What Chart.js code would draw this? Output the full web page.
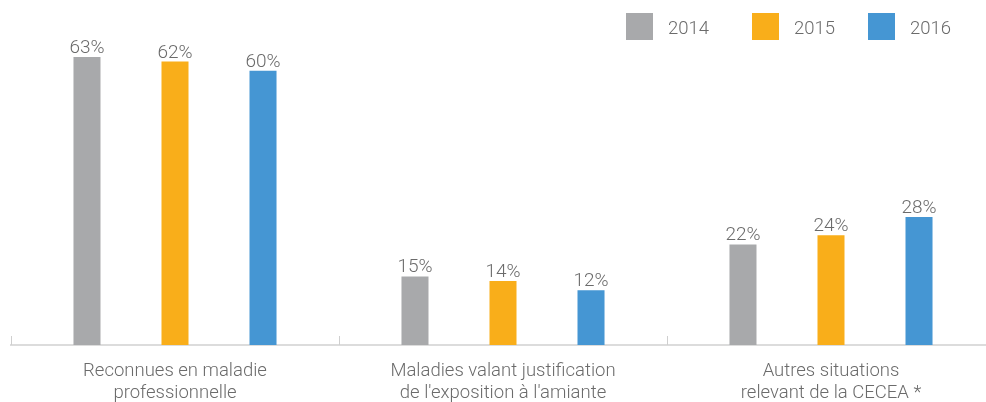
<!DOCTYPE html>
<html>
<head>
<meta charset="utf-8">
<script src="https://cdn.jsdelivr.net/npm/chart.js@4"></script>
<style>
  html, body { margin: 0; padding: 0; background: #fff; overflow: hidden; }
  #wrap { width: 1010px; height: 402px; position: relative; }
</style>
</head>
<body>
<div id="wrap"><canvas id="chart"></canvas></div>
<script>
const categories = [
  ['Reconnues en maladie', 'professionnelle'],
  ['Maladies valant justification', "de l'exposition à l'amiante"],
  ['Autres situations', 'relevant de la CECEA *']
];
const years = ['2014', '2015', '2016'];
const values2014 = [63, 15, 22];
const values2015 = [62, 14, 24];
const values2016 = [60, 12, 28];
const colors = ['#a8a9ab', '#f9ae1a', '#4596d3'];

const textColor = '#6b6b6b';
const fontFamily = 'Roboto, "Noto Sans", sans-serif';

// value labels above each bar
const valueLabels = {
  id: 'valueLabels',
  afterDatasetsDraw(chart) {
    const {ctx} = chart;
    ctx.save();
    ctx.font = '300 19px ' + fontFamily;
    ctx.fillStyle = textColor;
    ctx.textAlign = 'center';
    ctx.textBaseline = 'alphabetic';
    chart.data.datasets.forEach((ds, i) => {
      chart.getDatasetMeta(i).data.forEach((bar, j) => {
        ctx.fillText(ds.data[j] + '%', bar.x, bar.y - 4);
      });
    });
    ctx.restore();
  }
};

// short upward ticks at category boundaries
const boundaryTicks = {
  id: 'boundaryTicks',
  afterDraw(chart) {
    const {ctx} = chart;
    const x = chart.scales.x;
    const bottom = chart.chartArea.bottom;
    const n = chart.data.labels.length;
    const xs = [x.left];
    for (let i = 0; i < n - 1; i++) {
      xs.push((x.getPixelForValue(i) + x.getPixelForValue(i + 1)) / 2);
    }
    ctx.save();
    ctx.strokeStyle = '#cfcfcf';
    ctx.lineWidth = 1;
    xs.forEach(px => {
      const p = Math.round(px) + 0.5;
      ctx.beginPath();
      ctx.moveTo(p, bottom - 9);
      ctx.lineTo(p, bottom);
      ctx.stroke();
    });
    ctx.restore();
  }
};

// legend top right
const topLegend = {
  id: 'topLegend',
  afterDraw(chart) {
    const {ctx} = chart;
    const boxX = [626, 752, 868];
    ctx.save();
    ctx.font = '300 18.5px ' + fontFamily;
    ctx.textBaseline = 'middle';
    ctx.textAlign = 'left';
    chart.data.datasets.forEach((ds, i) => {
      ctx.fillStyle = ds.backgroundColor;
      ctx.fillRect(boxX[i], 13, 27, 27);
      ctx.fillStyle = textColor;
      ctx.fillText(ds.label, boxX[i] + 42, 29);
    });
    ctx.restore();
  }
};

new Chart(document.getElementById('chart'), {
  type: 'bar',
  data: {
    labels: categories,
    datasets: [
      { label: years[0], data: values2014, backgroundColor: colors[0] },
      { label: years[1], data: values2015, backgroundColor: colors[1] },
      { label: years[2], data: values2016, backgroundColor: colors[2] }
    ]
  },
  options: {
    responsive: true,
    maintainAspectRatio: false,
    animation: false,
    layout: { padding: { left: 11, right: 15, top: 25, bottom: 0 } },
    datasets: {
      bar: { barPercentage: 0.307, categoryPercentage: 0.805 }
    },
    plugins: {
      legend: { display: false },
      tooltip: { enabled: false }
    },
    scales: {
      x: {
        grid: { display: false, drawTicks: false },
        border: { display: true, color: '#dcdcdc', width: 2 },
        ticks: {
          color: textColor,
          padding: 15,
          maxRotation: 0,
          autoSkip: false,
          font: { family: fontFamily, size: 18.5, weight: 300, lineHeight: 1.19 }
        },
        afterFit(scale) { scale.height = 57; }
      },
      y: {
        display: false,
        min: 0,
        max: 70
      }
    }
  },
  plugins: [valueLabels, boundaryTicks, topLegend]
});
</script>
</body>
</html>
